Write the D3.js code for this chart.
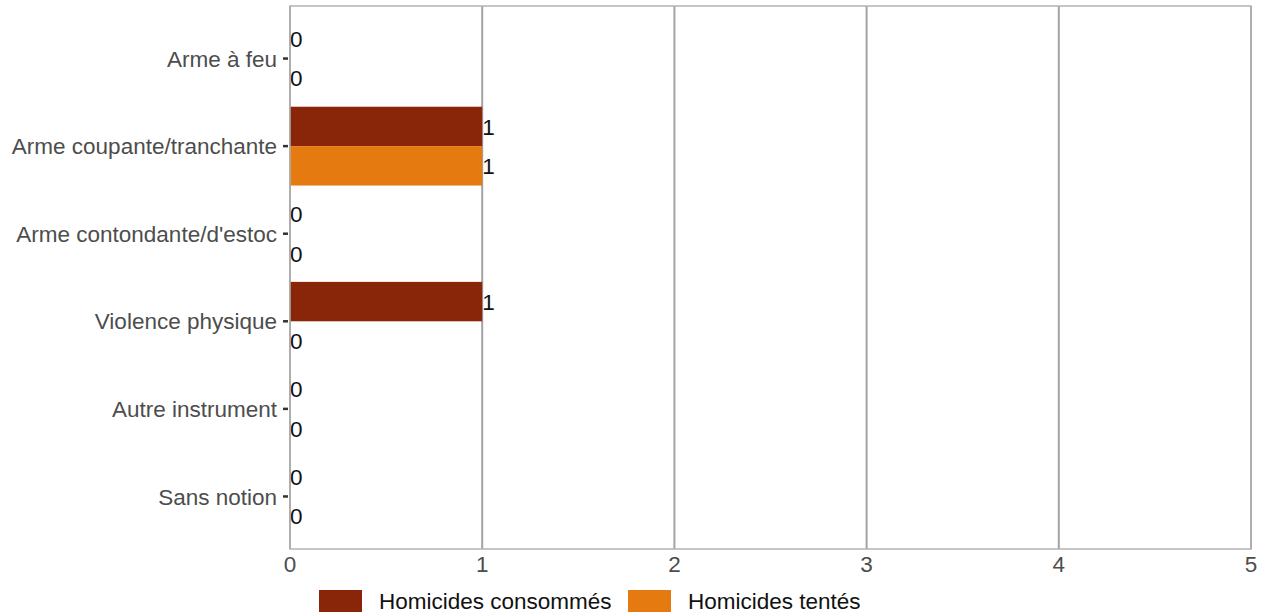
<!DOCTYPE html>
<html><head><meta charset="utf-8">
<script src="https://cdn.jsdelivr.net/npm/d3@7"></script>
<style>body{margin:0;background:#fff}svg{display:block;font-family:"Liberation Sans",Arial,sans-serif}</style>
</head><body><svg id="c" width="1269" height="613"></svg>
<script>
const categories = ["Arme à feu","Arme coupante/tranchante","Arme contondante/d'estoc","Violence physique","Autre instrument","Sans notion"];
const seriesNames = ["Homicides consommés","Homicides tentés"];
const consommes = [0,1,0,1,0,0];
const tentes = [0,1,0,0,0,0];
const xTicks = [0,1,2,3,4,5];
const colors = ["#892509","#E57A11"];

const svg = d3.select("#c");
const m = {l:290, r:1251, t:6, b:549};
const x = d3.scaleLinear().domain([0,5]).range([m.l, m.r]);
const yi = d3.scaleLinear().domain([-0.6, categories.length - 1 + 0.6]).range([m.t, m.b]);
const yc = c => yi(categories.indexOf(c));
const step = yi(1) - yi(0);
const sub = d3.scaleBand().domain(seriesNames).range([-step*0.45, step*0.45]);

svg.append("g").selectAll("line").data(xTicks).join("line")
  .attr("x1",d=>x(d)).attr("x2",d=>x(d)).attr("y1",m.t).attr("y2",m.b)
  .attr("stroke","#a3a3a3").attr("stroke-width",2);

const data = [];
categories.forEach((c,i)=>{
  data.push({c, s:seriesNames[0], v:consommes[i], col:colors[0]});
  data.push({c, s:seriesNames[1], v:tentes[i], col:colors[1]});
});
svg.append("g").selectAll("rect").data(data).join("rect")
  .attr("x",x(0)).attr("width",d=>x(d.v)-x(0))
  .attr("y",d=>yc(d.c)+sub(d.s)).attr("height",sub.bandwidth())
  .attr("fill",d=>d.col);
svg.append("g").selectAll("text").data(data).join("text")
  .attr("x",d=>x(d.v)).attr("y",d=>yc(d.c)+sub(d.s)+sub.bandwidth()/2)
  .attr("dy","0.36em").attr("font-size",22.5).attr("fill","#111")
  .text(d=>d.v);

svg.append("rect").attr("x",m.l).attr("y",m.t).attr("width",m.r-m.l).attr("height",m.b-m.t)
  .attr("fill","none").attr("stroke","#b3b3b3").attr("stroke-width",1.5);

const ya = svg.append("g");
ya.selectAll("line").data(categories).join("line")
  .attr("x1",m.l-7).attr("x2",m.l-2).attr("y1",d=>yc(d)).attr("y2",d=>yc(d))
  .attr("stroke","#333").attr("stroke-width",2.5);
ya.selectAll("text").data(categories).join("text")
  .attr("x",m.l-13).attr("y",d=>yc(d)).attr("dy","0.36em").attr("text-anchor","end")
  .attr("font-size",22.5).attr("fill","#4d4d4d").text(d=>d);
svg.append("g").selectAll("text").data(xTicks).join("text")
  .attr("x",d=>x(d)).attr("y",572).attr("text-anchor","middle")
  .attr("font-size",22.5).attr("fill","#4d4d4d").text(d=>d);

const lg = svg.append("g");
const lx = [319, 628];
seriesNames.forEach((s,i)=>{
  lg.append("rect").attr("x",lx[i]).attr("y",590).attr("width",43).attr("height",22).attr("fill",colors[i]);
  lg.append("text").attr("x",lx[i]+60).attr("y",601).attr("dy","0.36em")
    .attr("font-size",22.5).attr("fill","#111").text(s);
});
</script></body></html>
